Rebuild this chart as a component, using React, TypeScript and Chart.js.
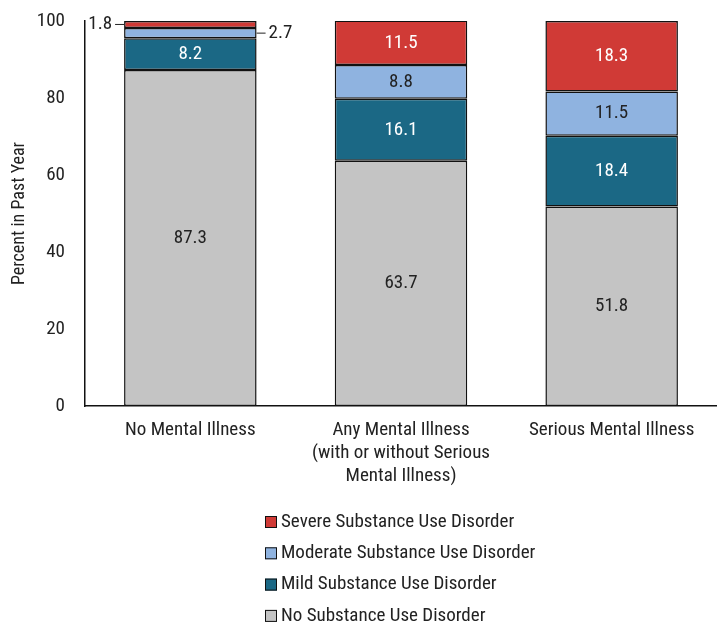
import React, { useEffect, useRef } from "react";
import { Chart, registerables } from "chart.js";

Chart.register(...registerables);

const categories: string[][] = [
  ["No Mental Illness"],
  ["Any Mental Illness", "(with or without Serious", "Mental Illness)"],
  ["Serious Mental Illness"],
];
const noSUD = [87.3, 63.7, 51.8];
const mildSUD = [8.2, 16.1, 18.4];
const moderateSUD = [2.7, 8.8, 11.5];
const severeSUD = [1.8, 11.5, 18.3];
const yTickValues = [0, 20, 40, 60, 80, 100];
const seriesNames = [
  "No Substance Use Disorder",
  "Mild Substance Use Disorder",
  "Moderate Substance Use Disorder",
  "Severe Substance Use Disorder",
];

const FONT = '"Liberation Sans Narrow", "Roboto Condensed", "Arial Narrow", Roboto, sans-serif';
const COLORS = ["#C4C4C4", "#1B6885", "#8FB3E0", "#D03A36"];
const LABEL_COLORS = ["#222222", "#FFFFFF", "#222222", "#FFFFFF"];
const OUTSIDE_SIDE = [null, null, "right", "left"];

const valueLabelPlugin = {
  id: "valueLabels",
  afterDatasetsDraw(chart: any) {
    const ctx = chart.ctx;
    ctx.save();
    ctx.font = `19px ${FONT}`;
    ctx.textBaseline = "middle";
    chart.data.datasets.forEach((ds: any, di: number) => {
      const meta = chart.getDatasetMeta(di);
      meta.data.forEach((bar: any, i: number) => {
        const v = ds.data[i];
        const { x, y, base, width } = bar.getProps(["x", "y", "base", "width"], true);
        const h = Math.abs(base - y);
        const cy = (y + base) / 2;
        const text = v.toFixed(1);
        if (h < 18) {
          const side = OUTSIDE_SIDE[di];
          ctx.strokeStyle = "#222";
          ctx.lineWidth = 1;
          ctx.fillStyle = "#222";
          if (side === "left") {
            const x0 = x - width / 2;
            ctx.beginPath();
            ctx.moveTo(x0, cy);
            ctx.lineTo(x0 - 9, cy);
            ctx.stroke();
            ctx.textAlign = "right";
            ctx.fillText(text, x0 - 12, cy);
          } else {
            const x0 = x + width / 2;
            ctx.beginPath();
            ctx.moveTo(x0, cy);
            ctx.lineTo(x0 + 9, cy);
            ctx.stroke();
            ctx.textAlign = "left";
            ctx.fillText(text, x0 + 12, cy);
          }
        } else {
          ctx.fillStyle = LABEL_COLORS[di];
          ctx.textAlign = "center";
          ctx.fillText(text, x, cy);
        }
      });
    });
    ctx.restore();
  },
};

const legendPlugin = {
  id: "verticalLegend",
  afterDraw(chart: any) {
    const ctx = chart.ctx;
    ctx.save();
    ctx.font = `19px ${FONT}`;
    ctx.textBaseline = "middle";
    ctx.textAlign = "left";
    const order = [3, 2, 1, 0];
    const boxX = 265;
    const startY = 522;
    const step = 31.3;
    order.forEach((di, k) => {
      const ds = chart.data.datasets[di];
      const cy = startY + k * step;
      ctx.fillStyle = ds.backgroundColor;
      ctx.fillRect(boxX, cy - 6, 12, 12);
      ctx.strokeStyle = "#111";
      ctx.lineWidth = 1;
      ctx.strokeRect(boxX + 0.5, cy - 5.5, 11, 11);
      ctx.fillStyle = "#222";
      ctx.fillText(ds.label, boxX + 16, cy);
    });
    ctx.restore();
  },
};

export default function App() {
  const ref = useRef<HTMLCanvasElement | null>(null);
  useEffect(() => {
    if (!ref.current) return;
    const seriesData = [noSUD, mildSUD, moderateSUD, severeSUD];
    const chart = new Chart(ref.current, {
      type: "bar",
      data: {
        labels: categories as any,
        datasets: seriesData.map((d, i) => ({
          label: seriesNames[i],
          data: d,
          backgroundColor: COLORS[i],
          borderColor: "#111111",
          borderWidth: 1.5,
          borderSkipped: false,
          categoryPercentage: 1,
          barPercentage: 0.629,
        })),
      },
      options: {
        responsive: false,
        animation: false,
        events: [],
        layout: { padding: { top: 21, left: 0, right: 0, bottom: 0 } },
        plugins: {
          legend: { display: false },
          tooltip: { enabled: false },
          title: { display: false },
        },
        scales: {
          x: {
            stacked: true,
            grid: { display: false, drawTicks: false },
            border: { display: true, color: "#111", width: 1.5 },
            ticks: {
              color: "#222",
              font: { family: FONT, size: 19, lineHeight: 1.21 },
              padding: 13,
              maxRotation: 0,
              autoSkip: false,
            },
            afterFit: (s: any) => {
              s.height = 221;
              s.paddingLeft = 0;
              s.paddingRight = 0;
              s.paddingTop = 0;
              s.paddingBottom = 0;
            },
          },
          y: {
            stacked: true,
            min: 0,
            max: 100,
            grid: { display: false, drawTicks: false },
            border: { display: true, color: "#111", width: 1.5 },
            afterBuildTicks: (s: any) => {
              s.ticks = yTickValues.map((v) => ({ value: v }));
            },
            ticks: {
              color: "#222",
              font: { family: FONT, size: 19 },
              padding: 20,
            },
            title: {
              display: true,
              text: "Percent in Past Year",
              color: "#222",
              font: { family: FONT, size: 18 },
              padding: { top: 9, bottom: 0 },
            },
            afterFit: (s: any) => {
              s.width = 85;
              s.paddingTop = 0;
              s.paddingBottom = 0;
              s.paddingLeft = 0;
              s.paddingRight = 0;
            },
          },
        },
      },
      plugins: [valueLabelPlugin, legendPlugin],
    });
    return () => chart.destroy();
  }, []);
  return (
    <div style={{ position: "absolute", left: 0, top: 0, width: 717, height: 627, background: "#fff" }}>
      <canvas ref={ref} width={717} height={627} />
    </div>
  );
}
